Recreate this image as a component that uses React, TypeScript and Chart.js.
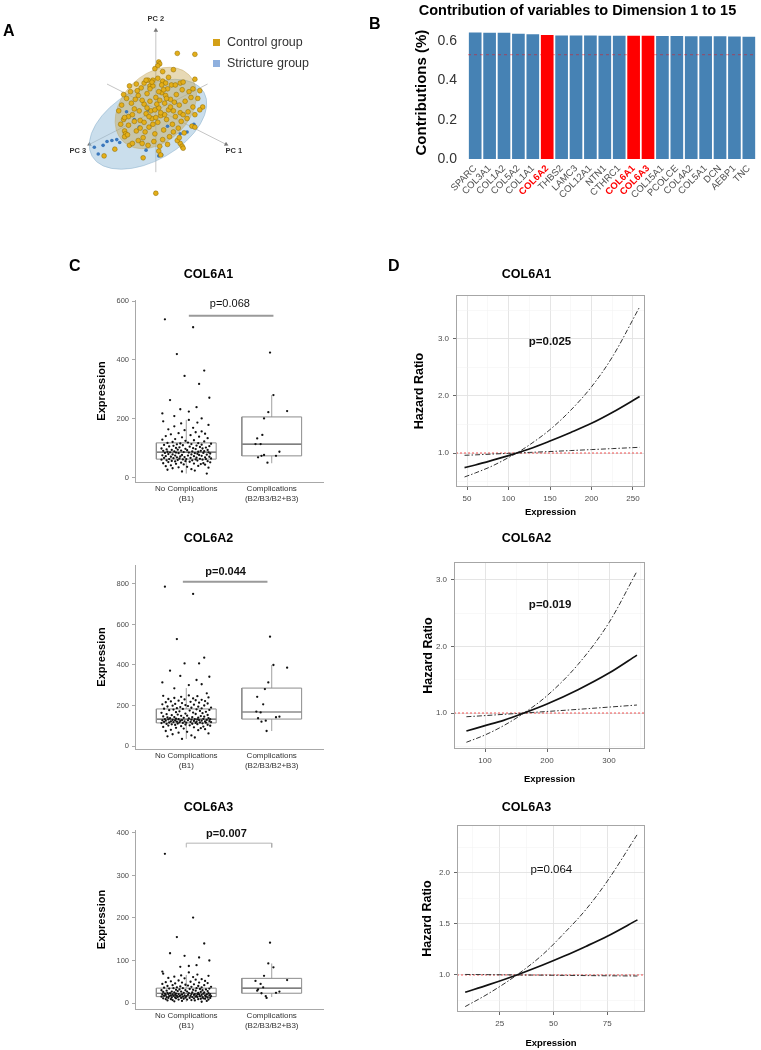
import React, { useEffect, useRef } from "react";
import { Chart, registerables } from "chart.js";

Chart.register(...registerables);

const FONT = '"Liberation Sans", Arial, Helvetica, sans-serif';
Chart.defaults.font.family = FONT;
Chart.defaults.color = "#000";
Chart.defaults.plugins.legend.display = false;
Chart.defaults.plugins.tooltip.enabled = false;

/* ================= Panel A : PCA (PC units) ================= */
const pcaControl: number[][] = [
  [2.2, 6.2], [4.0, 6.1], [0.3, 5.3], [0.4, 5.1], [0.2, 4.9], [-0.1, 4.6], [0.7, 4.3], [1.8, 4.5], [-1.2, 3.1], [-0.8, 3.4],
  [-0.3, 3.4], [-0.6, 2.8], [0.7, 3.3], [1.3, 3.7], [2.5, 3.1], [4.0, 3.5], [3.8, 2.5], [4.5, 2.3], [4.3, 1.5], [4.8, 0.6],
  [4.0, -0.2], [4.5, 0.3], [3.7, -1.4], [4.0, -1.5], [2.5, -3.2], [2.7, -3.5], [2.8, -3.7], [0.3, -4.0], [0.5, -4.4], [-1.3, -4.7],
  [-2.7, -3.4], [-4.2, -3.8], [-5.3, -4.5], [-3.3, -0.7], [-3.2, -1.9], [-3.1, -2.2], [-3.2, -2.5], [-2.8, -0.4], [0.0, -8.4],
  [-3.5, 0.8], [-3.0, 1.5], [-2.6, 2.2], [-2.2, 0.4], [-1.8, 1.8], [-1.5, 2.6], [-1.2, 0.9], [-0.9, 2.0], [-0.6, 1.2], [-0.3, 2.8],
  [0.0, 1.6], [0.3, 0.5], [0.6, 2.1], [0.9, 1.0], [1.2, 2.5], [1.5, 1.4], [1.8, 0.2], [2.1, 1.9], [2.4, 0.8], [2.7, 2.4],
  [3.0, 1.2], [3.3, 0.1], [3.6, 1.6], [-3.2, -0.5], [-2.8, -1.3], [-2.4, -0.2], [-2.0, -1.9], [-1.6, -0.8], [-1.3, -2.6], [-1.0, -0.1],
  [-0.7, -1.5], [-0.4, -0.6], [-0.1, -2.2], [0.2, -1.0], [0.5, -0.3], [0.8, -1.8], [1.1, -0.7], [1.4, -2.5], [1.7, -1.2], [2.0, -0.4],
  [2.3, -1.6], [2.6, -0.9], [2.9, -2.1], [3.2, -0.6], [-2.0, 3.0], [-1.0, 3.4], [0.2, 3.6], [1.0, 3.1], [-0.5, 0.2], [0.1, 0.9],
  [-1.4, 1.3], [-2.5, 1.0], [1.3, 0.3], [0.7, -2.8], [-0.2, -3.0], [-1.8, -2.9], [-2.9, -2.3], [2.2, -2.9], [-3.6, -1.2], [3.8, 0.6],
  [-0.8, -3.4], [0.4, -3.5], [1.6, 2.9], [2.8, 3.2], [-1.2, -1.0], [-0.9, 0.5], [0.4, 1.3], [0.9, -0.2], [-0.3, -1.2], [1.9, 1.1],
  [-2.2, -0.9], [-1.7, 0.2], [2.5, 0.0], [-0.6, 2.5], [1.0, 1.8], [-2.7, 2.8], [0.6, 2.9], [1.8, -2.0], [-1.1, -2.0], [0.0, -0.5],
  [3.4, 2.2], [-3.3, 1.9], [2.0, 2.9], [-0.4, 3.2], [-2.4, -3.2], [1.2, -3.3], [-3.8, 0.2], [0.3, 2.2], [-1.6, -1.6], [1.5, 0.6],
  [-0.1, 0.3], [0.5, 0.0], [-0.7, -0.4], [1.1, 1.5], [-1.9, 2.3], [2.8, -0.2], [-2.1, 1.4], [0.8, 2.4], [-1.4, -3.2], [2.4, -2.6],
];
const pcaStricture: number[][] = [
  [-5.0, -3.0], [-4.5, -2.9], [-5.9, -4.3], [-5.4, -3.4], [-4.0, -2.8], [-3.7, -3.1], [-1.7, -1.5], [-0.8, 0.3], [2.0, 1.1], [2.5, -2.2],
  [3.2, -2.0], [0.3, -4.5], [0.6, -4.4], [1.2, -1.4], [-2.2, -0.7], [-3.0, 0.1], [-6.3, -3.6], [3.9, -1.2], [-1.0, -3.9],
];
const pcAxis1 = [[-5.0, 3.0], [7.2, -3.3]];
const pcAxis2 = [[0, -6.2], [0, 8.6]];
const pcAxis3 = [[5.3, 3.0], [-6.8, -3.3]];
// confidence ellipses: centre x, centre y, semi-major, semi-minor (PC units)
const ellipseStricture = [-0.8, -1.2, 6.6, 3.8];
const ellipseControl = [0.0, 0.5, 4.8, 3.5];

/* ================= Panel B : contributions ================= */
const genes = ["SPARC", "COL3A1", "COL1A2", "COL5A2", "COL1A1", "COL6A2", "THBS2", "LAMC3", "COL12A1", "NTN1",
  "CTHRC1", "COL6A1", "COL6A3", "COL15A1", "PCOLCE", "COL4A2", "COL5A1", "DCN", "AEBP1", "TNC"];
const contributions = [0.643, 0.642, 0.642, 0.636, 0.634, 0.630, 0.628, 0.628, 0.628, 0.627,
  0.627, 0.627, 0.627, 0.625, 0.625, 0.624, 0.624, 0.624, 0.623, 0.621];
const highlighted = ["COL6A2", "COL6A1", "COL6A3"];
const expectedContribution = 0.53;
const contributionTicks = [0, 0.2, 0.4, 0.6];

/* ================= Panel C : expression box plots ================= */
const groupLabels = [["No Complications", "(B1)"], ["Complications", "(B2/B3/B2+B3)"]];
const jitterB1 = [
  -0.25, 0.08, -0.11, 0.21, -0.02, 0.15, -0.19, 0.27, -0.07, 0.12,
  0.03, -0.28, 0.18, -0.14, 0.24, -0.05, 0.10, -0.22, 0.06, -0.16,
  0.26, -0.09, 0.01, -0.24, 0.14, -0.18, 0.22, -0.03, 0.17, -0.12,
  0.09, -0.27, 0.20, -0.06, 0.28, -0.21, 0.04, -0.13, 0.25, -0.01,
  -0.17, 0.13, -0.23, 0.07, -0.10, 0.19, -0.29, 0.11, -0.04, 0.23,
  0.00, -0.20, 0.16, -0.08, 0.29, -0.15, 0.05, -0.26, 0.12, -0.11,
  0.22, -0.02, -0.18, 0.27, -0.07, 0.09, -0.24, 0.18, -0.13, 0.02,
  -0.28, 0.15, -0.05, 0.24, -0.16, 0.06, -0.21, 0.13, 0.28, -0.09,
  0.10, -0.25, 0.20, -0.12, 0.03, -0.19, 0.26, -0.03, 0.14, -0.22,
  0.07, -0.14, 0.21, -0.27, 0.17, -0.06, 0.01, -0.17, 0.25, -0.10,
  -0.23, 0.11, -0.01, 0.19, -0.29, 0.08, -0.12, 0.23, -0.08, 0.16,
  0.04, -0.20, 0.27, -0.15, 0.12, -0.04, -0.26, 0.18, -0.11, 0.06,
  0.29, -0.07, 0.14, -0.22, 0.02, -0.16, 0.21, -0.01, 0.09, -0.28,
  -0.13, 0.25, -0.05, 0.15, -0.24, 0.05, -0.18, 0.22, -0.09, 0.11,
  0.18, -0.02, -0.21, 0.08, -0.14, 0.26, -0.06, 0.13, -0.27, 0.03,
];

const col6a1B1 = [538, 511, 420, 364, 346, 319, 264, 272, 233, 240, 225, 219, 202, 210,
  15, 22, 25, 28, 30, 33, 35, 36, 38, 40, 41, 43, 45, 46, 47, 48, 49, 50, 50, 52,
  53, 54, 55, 56, 57, 57, 58, 59, 60, 60, 61, 62, 62, 63, 63, 64, 64, 64,
  65, 66, 66, 67, 68, 68, 69, 70, 70, 71, 72, 72, 73, 74, 74, 75, 76, 76, 77, 78, 78, 79, 80, 80, 81, 82, 83, 84, 84, 85, 85, 86, 86, 87, 87, 88,
  89, 89, 90, 90, 91, 92, 92, 93, 94, 95, 95, 96, 97, 98, 99, 100, 100, 101, 102, 103, 104, 105, 106, 107, 108, 109, 110, 111, 112, 113, 114, 115, 116, 117, 118, 119,
  120, 122, 124, 126, 128, 130, 132, 135, 138, 140, 142, 145, 148, 150, 152, 155, 158, 162, 165, 170, 175, 180, 185, 188, 192, 197];
const col6a1Comp = [425, 281, 227, 223, 202, 146, 134, 115, 115, 89, 78, 75, 70, 75, 52];
const col6a1CompX = [1.98, 2.02, 2.18, 1.96, 1.91, 1.89, 1.83, 1.81, 1.87, 2.09, 1.91, 1.88, 1.84, 2.05, 1.95];
const col6a1Stats = [[15, 64, 88, 119, 197], [50, 75, 115, 207, 281]]; // min, Q1, median, Q3, max
const col6a1Ticks = [0, 200, 400, 600];
const col6a1Sig = [[1.03, 550], [2.02, 550]];

const col6a2B1 = [787, 751, 528, 436, 408, 408, 372, 342, 346, 326, 301, 314, 305, 285, 260,
  35, 42, 48, 52, 58, 62, 66, 70, 74, 78, 80, 83, 86, 88, 90, 92, 94, 96, 98, 100, 101, 102, 104, 105, 106, 107, 108, 109, 110, 111, 112, 113, 114,
  114, 115, 115, 116, 116, 117, 118, 118, 119, 119, 120, 120, 121, 122, 122, 123, 124, 124, 125, 125, 126, 127, 127, 128, 128, 129, 129, 130, 131, 131, 132, 132, 133, 133,
  134, 135, 136, 137, 138, 139, 140, 141, 142, 143, 145, 146, 148, 149, 150, 152, 153, 155, 157, 158, 160, 162, 164, 165, 167, 169, 171, 173, 175, 177, 178, 180, 181, 183,
  184, 186, 187, 189, 190, 192, 194, 195, 197, 199, 200, 202, 204, 206, 208, 210, 212, 214, 216, 218, 220, 222, 224, 226, 228, 230, 232, 235, 237, 240, 243, 246, 248, 250];
const col6a2Comp = [540, 400, 387, 314, 281, 243, 206, 145, 142, 170, 166, 120, 125, 137, 74];
const col6a2CompX = [1.98, 2.02, 2.18, 1.96, 1.92, 1.83, 1.9, 2.09, 2.05, 1.82, 1.87, 1.88, 1.93, 1.84, 1.94];
const col6a2Stats = [[35, 114, 133, 183, 286], [74, 133, 168, 286, 400]];
const col6a2Ticks = [0, 200, 400, 600, 800];
const col6a2Sig = [[0.96, 811], [1.95, 811]];

const col6a3B1 = [351, 201, 155, 140, 111, 107, 117, 100, 85, 89, 87, 74,
  3, 4, 5, 5, 6, 6, 7, 7, 8, 8, 8, 9, 9, 9, 10, 10, 10, 11, 11, 11, 11, 12, 12, 12, 12, 13, 13, 13, 13, 14, 14, 14, 14, 14,
  15, 15, 15, 15, 16, 16, 16, 16, 16, 17, 17, 17, 17, 17, 18, 18, 18, 18, 18, 19, 19, 19, 19, 19, 20, 20, 20, 20, 20, 21, 21, 21, 21, 21, 21,
  22, 22, 22, 23, 23, 23, 24, 24, 24, 25, 25, 25, 26, 26, 27, 27, 27, 28, 28, 29, 29, 30, 30, 30, 31, 31, 32, 32, 33, 33, 34, 34, 35, 35, 35,
  36, 37, 37, 38, 38, 39, 40, 40, 41, 42, 42, 43, 44, 45, 46, 47, 48, 48, 49, 50, 51, 52, 53, 55, 56, 58, 59, 61, 62, 64, 65, 67, 69, 72];
const col6a3Comp = [142, 93, 84, 64, 54, 52, 45, 37, 29, 27, 24, 23, 16, 12, 32];
const col6a3CompX = [1.98, 1.96, 2.02, 1.91, 2.18, 1.81, 1.87, 1.9, 1.83, 2.09, 2.05, 1.88, 1.93, 1.94, 1.84];
const col6a3Stats = [[3, 15, 23, 35, 66], [14, 23, 35, 58, 93]];
const col6a3Ticks = [0, 100, 200, 300, 400];
const col6a3Sig = [[1.0, 366], [1.0, 376], [2.0, 376], [2.0, 366]];

/* ================= Panel D : hazard ratio curves ================= */
const hr1X = [47, 60, 80, 100, 110, 125, 150, 175, 200, 225, 258];
const hr1 = [0.745, 0.79, 0.87, 0.955, 1.0, 1.07, 1.21, 1.36, 1.52, 1.71, 1.99];
const hr1Upper = [0.58, 0.65, 0.77, 0.92, 1.0, 1.14, 1.41, 1.75, 2.16, 2.68, 3.56];
const hr1Lower = [0.96, 0.967, 0.981, 0.994, 1.0, 1.01, 1.026, 1.043, 1.06, 1.077, 1.10];
const hr1XMajor = [50, 100, 150, 200, 250];
const hr1XMinor = [75, 125, 175, 225];
const hr1YMajor = [1, 2, 3];
const hr1YMinor = [0.5, 1.5, 2.5, 3.5];

const hr2X = [70, 100, 130, 163, 200, 250, 300, 345];
const hr2 = [0.73, 0.81, 0.89, 1.0, 1.135, 1.35, 1.60, 1.87];
const hr2Upper = [0.56, 0.67, 0.81, 1.0, 1.26, 1.73, 2.36, 3.13];
const hr2Lower = [0.944, 0.961, 0.98, 1.0, 1.023, 1.055, 1.089, 1.12];
const hr2XMajor = [100, 200, 300];
const hr2XMinor = [50, 150, 250, 350];
const hr2YMajor = [1, 2, 3];
const hr2YMinor = [0.5, 1.5, 2.5];

const hr3X = [9, 20, 33, 45, 55, 65, 75, 89];
const hr3 = [0.83, 0.905, 1.0, 1.097, 1.185, 1.28, 1.38, 1.54];
const hr3Upper = [0.69, 0.82, 1.0, 1.20, 1.41, 1.64, 1.92, 2.38];
const hr3Lower = [1.005, 1.003, 1.0, 0.998, 0.996, 0.994, 0.992, 0.99];
const hr3XMajor = [25, 50, 75];
const hr3XMinor = [12.5, 37.5, 62.5, 87.5];
const hr3YMajor = [1, 1.5, 2];
const hr3YMinor = [0.75, 1.25, 1.75, 2.25];

const referenceHR = 1;

/* ================= helpers ================= */
function textPlugin(items: any[]) {
  return {
    id: "txt",
    afterDatasetsDraw(chart: any) {
      const ctx = chart.ctx;
      items.forEach((it) => {
        const x = chart.scales.x.getPixelForValue(it.x);
        const y = chart.scales.y.getPixelForValue(it.y);
        ctx.save();
        ctx.font = `${it.weight || "normal"} ${it.size}px ${FONT}`;
        ctx.fillStyle = it.color || "#000";
        ctx.textAlign = "center";
        ctx.textBaseline = "middle";
        ctx.fillText(it.text, x, y);
        ctx.restore();
      });
    },
  };
}

const framePlugin = {
  id: "frame",
  afterDatasetsDraw(chart: any) {
    const a = chart.chartArea;
    const ctx = chart.ctx;
    ctx.save();
    ctx.strokeStyle = "#a6a6a6";
    ctx.lineWidth = 1;
    ctx.strokeRect(a.left + 0.5, a.top + 0.5, a.right - a.left - 1, a.bottom - a.top - 1);
    ctx.restore();
  },
};

const thresholdPlugin = {
  id: "thr",
  afterDatasetsDraw(chart: any) {
    const a = chart.chartArea;
    const y = chart.scales.y.getPixelForValue(expectedContribution);
    const ctx = chart.ctx;
    ctx.save();
    ctx.strokeStyle = "rgba(255,0,0,0.45)";
    ctx.lineWidth = 1;
    ctx.setLineDash([3, 3]);
    ctx.beginPath();
    ctx.moveTo(a.left, y);
    ctx.lineTo(a.right, y);
    ctx.stroke();
    ctx.restore();
  },
};

const ellipsePlugin = {
  id: "ell",
  beforeDatasetDraw(chart: any, args: any) {
    if (args.index !== 1) return;
    const xs = chart.scales.x;
    const ys = chart.scales.y;
    const ctx = chart.ctx;
    const draw = (e: number[], rot: number, fill: string, stroke: string) => {
      const cx = xs.getPixelForValue(e[0]);
      const cy = ys.getPixelForValue(e[1]);
      const rx = Math.abs(xs.getPixelForValue(e[0] + e[2]) - cx);
      const ry = Math.abs(ys.getPixelForValue(e[1] + e[3]) - cy);
      ctx.save();
      ctx.beginPath();
      ctx.ellipse(cx, cy, rx, ry, rot, 0, Math.PI * 2);
      ctx.fillStyle = fill;
      ctx.fill();
      ctx.strokeStyle = stroke;
      ctx.lineWidth = 0.8;
      ctx.stroke();
      ctx.restore();
    };
    draw(ellipseStricture, -0.52, "rgba(150,190,218,0.5)", "rgba(130,170,200,0.6)");
    draw(ellipseControl, -0.785, "rgba(196,160,70,0.4)", "rgba(190,160,90,0.5)");
  },
};

function ChartCanvas({ left, top, width, height, config }: any) {
  const ref = useRef<HTMLCanvasElement>(null);
  useEffect(() => {
    const chart = new Chart(ref.current as HTMLCanvasElement, config());
    return () => chart.destroy();
  }, []);
  return (
    <canvas
      ref={ref}
      width={width}
      height={height}
      style={{ position: "absolute", left, top, width, height }}
    />
  );
}

/* ================= configs ================= */
function pcaConfig(): any {
  const toPts = (arr: number[][]) => arr.map(([x, y]) => ({ x, y }));
  const axis = (arr: number[][], rot: number) => ({
    type: "line",
    data: toPts(arr),
    borderColor: "#c4c4c4",
    borderWidth: 1,
    pointRadius: [0, 2.6],
    pointStyle: "triangle",
    pointRotation: [0, rot],
    pointBackgroundColor: "#777",
    pointBorderWidth: 0,
  });
  return {
    type: "scatter",
    data: {
      datasets: [
        { data: toPts(pcaControl), pointRadius: 2.4, pointBackgroundColor: "#e3ae1a", pointBorderColor: "#8d6b00", pointBorderWidth: 0.5 },
        { data: toPts(pcaStricture), pointRadius: 1.8, pointBackgroundColor: "#3b78bd", pointBorderWidth: 0 },
        axis(pcAxis1, 117),
        axis(pcAxis2, 0),
        axis(pcAxis3, 242),
      ],
    },
    options: {
      responsive: false,
      animation: false,
      events: [],
      layout: { padding: 0 },
      scales: {
        x: { type: "linear", display: false, min: -15.5, max: 22.5 },
        y: { type: "linear", display: false, min: -10.2, max: 11.3 },
      },
    },
    plugins: [
      ellipsePlugin,
      textPlugin([
        { text: "PC 2", x: 0, y: 9.8, size: 7.5, weight: "bold", color: "#333" },
        { text: "PC 3", x: -8.0, y: -4.0, size: 7.5, weight: "bold", color: "#333" },
        { text: "PC 1", x: 8.0, y: -4.0, size: 7.5, weight: "bold", color: "#333" },
      ]),
    ],
  };
}

function barConfig(): any {
  const isHi = (i: number) => highlighted.includes(genes[i]);
  return {
    type: "bar",
    data: {
      labels: genes,
      datasets: [
        {
          data: contributions,
          backgroundColor: genes.map((g) => (highlighted.includes(g) ? "#FF0000" : "#4682B4")),
          barPercentage: 0.88,
          categoryPercentage: 1,
        },
      ],
    },
    options: {
      responsive: false,
      animation: false,
      events: [],
      layout: { padding: { left: 18, right: 4, top: 0, bottom: 0 } },
      plugins: {
        title: {
          display: true,
          text: "Contribution of variables to Dimension 1 to 15",
          font: { size: 14.5, weight: "bold", lineHeight: 1 },
          padding: { top: 3.75, bottom: 7.95 },
          color: "#000",
        },
      },
      scales: {
        x: {
          afterFit: (s: any) => { s.height = 46; },
          grid: { display: false, drawTicks: false },
          border: { display: false },
          ticks: {
            maxRotation: 45,
            minRotation: 45,
            autoSkip: false,
            padding: 4,
            color: (c: any) => (isHi(c.index) ? "#FF0000" : "#4d4d4d"),
            font: (c: any) => ({ size: 9.5, weight: isHi(c.index) ? "bold" : "normal" }),
          },
        },
        y: {
          min: 0,
          max: 0.675,
          afterBuildTicks: (s: any) => { s.ticks = contributionTicks.map((value) => ({ value })); },
          afterFit: (s: any) => { s.width = 70; },
          grid: { display: false, drawTicks: false },
          border: { display: false },
          ticks: { callback: (v: any) => Number(v).toFixed(1), font: { size: 14 }, color: "#333", padding: 11 },
          title: {
            display: true,
            text: "Contributions (%)",
            font: { size: 15, weight: "bold", lineHeight: 1.2 },
            padding: { top: 15, bottom: 0 },
            color: "#000",
          },
        },
      },
    },
    plugins: [thresholdPlugin],
  };
}

function boxDatasets(center: number, s: number[], half: number) {
  const [mn, q1, md, q3, mx] = s;
  const seg = (pts: number[][], color: string, w: number) => ({
    type: "line",
    data: pts.map(([x, y]) => ({ x, y })),
    borderColor: color,
    borderWidth: w,
    pointRadius: 0,
    fill: false,
    tension: 0,
  });
  return [
    seg([[center - half, q1], [center + half, q1], [center + half, q3], [center - half, q3], [center - half, q1]], "#8c8c8c", 1),
    seg([[center - half, md], [center + half, md]], "#555", 1.2),
    seg([[center, q3], [center, mx]], "#a0a0a0", 1),
    seg([[center, mn], [center, q1]], "#a0a0a0", 1),
  ];
}

function boxConfig(p: any) {
  return (): any => {
    const half = 0.35;
    const datasets: any[] = [
      { type: "scatter", data: p.b1.map((v: number, i: number) => ({ x: 1 + jitterB1[i], y: v })), pointRadius: 1.15, pointBackgroundColor: "#111", pointBorderWidth: 0 },
      { type: "scatter", data: p.comp.map((v: number, i: number) => ({ x: p.compX[i], y: v })), pointRadius: 1.15, pointBackgroundColor: "#111", pointBorderWidth: 0 },
      ...boxDatasets(1, p.stats[0], half),
      ...boxDatasets(2, p.stats[1], half),
      { type: "line", data: p.sig.map(([x, y]: number[]) => ({ x, y })), borderColor: p.sigColor, borderWidth: p.sigWidth, pointRadius: 0, fill: false, tension: 0 },
    ];
    return {
      type: "scatter",
      data: { datasets },
      options: {
        responsive: false,
        animation: false,
        events: [],
        layout: { padding: { left: 34, right: 17, top: 0, bottom: 2 } },
        plugins: {
          title: {
            display: true,
            text: p.title,
            font: { size: 12.5, weight: "bold", lineHeight: 1 },
            padding: p.titlePad,
            color: "#000",
          },
        },
        scales: {
          x: {
            type: "linear",
            min: 0.4,
            max: 2.6,
            afterBuildTicks: (s: any) => { s.ticks = [1, 2].map((value) => ({ value })); },
            afterFit: (s: any) => { s.height = p.xH; },
            ticks: {
              callback: (v: any) => (v === 1 ? groupLabels[0] : v === 2 ? groupLabels[1] : ""),
              font: { size: 8, lineHeight: 1.25 },
              color: "#333",
              padding: 2,
              maxRotation: 0,
              autoSkip: false,
            },
            grid: { display: false, drawTicks: false },
            border: { display: true, color: "#a8a8a8", width: 1 },
          },
          y: {
            type: "linear",
            min: p.yMin,
            max: p.yMax,
            afterBuildTicks: (s: any) => { s.ticks = p.ticks.map((value: number) => ({ value })); },
            afterFit: (s: any) => { s.width = 41; },
            ticks: { font: { size: 7.5 }, color: "#4d4d4d", padding: 3, autoSkip: false },
            grid: { display: true, drawOnChartArea: false, drawTicks: true, tickLength: 3, color: "#a8a8a8" },
            border: { display: true, color: "#a8a8a8", width: 1 },
            title: {
              display: true,
              text: "Expression",
              font: { size: 11, weight: "bold", lineHeight: 1.2 },
              padding: { top: 1.4, bottom: 0 },
              color: "#000",
            },
          },
        },
      },
      plugins: [textPlugin([{ text: p.pText, x: p.pPos[0], y: p.pPos[1], size: 11, weight: p.pBold ? "bold" : "normal", color: "#111" }])],
    };
  };
}

function hrConfig(p: any) {
  return (): any => {
    const pts = (xs: number[], ys: number[]) => xs.map((x, i) => ({ x, y: ys[i] }));
    const gridOpts = (major: number[]) => {
      const isMaj = (c: any) => c.tick && major.includes(c.tick.value);
      return {
        display: true,
        drawOnChartArea: true,
        drawTicks: true,
        tickLength: 3,
        color: (c: any) => (isMaj(c) ? "#e2e2e2" : "#f0f0f0"),
        lineWidth: (c: any) => (isMaj(c) ? 0.9 : 0.5),
        tickColor: (c: any) => (isMaj(c) ? "#555" : "rgba(0,0,0,0)"),
      };
    };
    return {
      type: "scatter",
      data: {
        datasets: [
          { type: "line", data: pts(p.x, p.hr), borderColor: "#111", borderWidth: 1.7, pointRadius: 0, fill: false, cubicInterpolationMode: "monotone" },
          { type: "line", data: pts(p.x, p.up), borderColor: "#333", borderWidth: 1, borderDash: [5, 2, 1.5, 2], pointRadius: 0, fill: false, cubicInterpolationMode: "monotone" },
          { type: "line", data: pts(p.x, p.lo), borderColor: "#333", borderWidth: 1, borderDash: [5, 2, 1.5, 2], pointRadius: 0, fill: false, cubicInterpolationMode: "monotone" },
          { type: "line", data: [{ x: p.xMin, y: referenceHR }, { x: p.xMax, y: referenceHR }], borderColor: "rgba(240,70,70,0.85)", borderWidth: 1.1, borderDash: [2, 2], pointRadius: 0, fill: false },
        ],
      },
      options: {
        responsive: false,
        animation: false,
        events: [],
        layout: { padding: { left: 23, right: 10, top: 0, bottom: 1 } },
        plugins: {
          title: {
            display: true,
            text: p.title,
            font: { size: 12.5, weight: "bold", lineHeight: 1 },
            padding: p.titlePad,
            color: "#000",
          },
        },
        scales: {
          x: {
            type: "linear",
            min: p.xMin,
            max: p.xMax,
            afterBuildTicks: (s: any) => {
              s.ticks = [...p.xMajor, ...p.xMinor].sort((a: number, b: number) => a - b).map((value: number) => ({ value }));
            },
            afterFit: (s: any) => { s.height = p.xH; },
            ticks: {
              callback: (v: any) => (p.xMajor.includes(v) ? String(v) : ""),
              font: { size: 8 },
              color: "#4d4d4d",
              padding: 4,
              maxRotation: 0,
              autoSkip: false,
            },
            grid: gridOpts(p.xMajor),
            border: { display: false },
            title: {
              display: true,
              text: "Expression",
              font: { size: 9.5, weight: "bold", lineHeight: 1.2 },
              padding: { top: 0, bottom: p.xTitlePad },
              color: "#000",
            },
          },
          y: {
            type: "linear",
            min: p.yMin,
            max: p.yMax,
            afterBuildTicks: (s: any) => {
              s.ticks = [...p.yMajor, ...p.yMinor].sort((a: number, b: number) => a - b).map((value: number) => ({ value }));
            },
            afterFit: (s: any) => { s.width = p.yW; },
            ticks: {
              callback: (v: any) => (p.yMajor.includes(v) ? Number(v).toFixed(1) : ""),
              font: { size: 8 },
              color: "#4d4d4d",
              padding: 4,
              autoSkip: false,
            },
            grid: gridOpts(p.yMajor),
            border: { display: false },
            title: {
              display: true,
              text: "Hazard Ratio",
              font: { size: 12.5, weight: "bold", lineHeight: 1.2 },
              padding: { top: p.yTitlePad, bottom: 0 },
              color: "#000",
            },
          },
        },
      },
      plugins: [framePlugin, textPlugin([{ text: p.pText, x: p.pPos[0], y: p.pPos[1], size: 11.5, weight: p.pBold ? "bold" : "normal", color: "#111" }])],
    };
  };
}

const c1 = boxConfig({
  title: "COL6A1", b1: col6a1B1, comp: col6a1Comp, compX: col6a1CompX, stats: col6a1Stats, ticks: col6a1Ticks,
  yMin: -13.6, yMax: 603.4, sig: col6a1Sig, sigColor: "#9a9a9a", sigWidth: 2,
  pText: "p=0.068", pBold: false, pPos: [1.51, 590], titlePad: { top: 6.75, bottom: 18.75 }, xH: 28,
});
const c2 = boxConfig({
  title: "COL6A2", b1: col6a2B1, comp: col6a2Comp, compX: col6a2CompX, stats: col6a2Stats, ticks: col6a2Ticks,
  yMin: -14.8, yMax: 893.8, sig: col6a2Sig, sigColor: "#9a9a9a", sigWidth: 2,
  pText: "p=0.044", pBold: true, pPos: [1.46, 861], titlePad: { top: 10.75, bottom: 19.75 }, xH: 29,
});
const c3 = boxConfig({
  title: "COL6A3", b1: col6a3B1, comp: col6a3Comp, compX: col6a3CompX, stats: col6a3Stats, ticks: col6a3Ticks,
  yMin: -14.1, yMax: 407, sig: col6a3Sig, sigColor: "#ababab", sigWidth: 0.9,
  pText: "p=0.007", pBold: true, pPos: [1.47, 397], titlePad: { top: 13.75, bottom: 15.75 }, xH: 39,
});

const d1 = hrConfig({
  title: "COL6A1", x: hr1X, hr: hr1, up: hr1Upper, lo: hr1Lower,
  xMajor: hr1XMajor, xMinor: hr1XMinor, yMajor: hr1YMajor, yMinor: hr1YMinor,
  xMin: 36.7, xMax: 264.5, yMin: 0.404, yMax: 3.77,
  titlePad: { top: 6.75, bottom: 13.75 }, xH: 32, yW: 48, yTitlePad: 4.5, xTitlePad: 1.3,
  pText: "p=0.025", pBold: true, pPos: [150, 2.95],
});
const d2 = hrConfig({
  title: "COL6A2", x: hr2X, hr: hr2, up: hr2Upper, lo: hr2Lower,
  xMajor: hr2XMajor, xMinor: hr2XMinor, yMajor: hr2YMajor, yMinor: hr2YMinor,
  xMin: 50, xMax: 358, yMin: 0.459, yMax: 3.27,
  titlePad: { top: 10.75, bottom: 16.75 }, xH: 36, yW: 46, yTitlePad: 13.5, xTitlePad: 0.3,
  pText: "p=0.019", pBold: true, pPos: [205, 2.62],
});
const d3 = hrConfig({
  title: "COL6A3", x: hr3X, hr: hr3, up: hr3Upper, lo: hr3Lower,
  xMajor: hr3XMajor, xMinor: hr3XMinor, yMajor: hr3YMajor, yMinor: hr3YMinor,
  xMin: 5.2, xMax: 92.5, yMin: 0.637, yMax: 2.47,
  titlePad: { top: 13.75, bottom: 10.75 }, xH: 37, yW: 49, yTitlePad: 12.5, xTitlePad: 0.3,
  pText: "p=0.064", pBold: false, pPos: [49, 2.03],
});

function Letter({ text, left, top }: any) {
  return (
    <div style={{ position: "absolute", left, top, fontSize: 16, lineHeight: "16px", fontWeight: "bold", color: "#000", fontFamily: FONT }}>
      {text}
    </div>
  );
}

function LegendItem({ color, text, top }: any) {
  return (
    <div style={{ position: "absolute", left: 213, top, height: 13, display: "flex", alignItems: "center", fontFamily: FONT }}>
      <div style={{ width: 7, height: 7, background: color, marginRight: 7 }} />
      <span style={{ fontSize: 12.5, lineHeight: "13px", color: "#333" }}>{text}</span>
    </div>
  );
}

export default function App() {
  return (
    <div style={{ position: "absolute", left: 0, top: 0, width: 761, height: 1050, background: "#fff", overflow: "hidden" }}>
      <ChartCanvas left={0} top={0} width={380} height={215} config={pcaConfig} />
      <ChartCanvas left={380} top={0} width={381} height={205} config={barConfig} />
      <ChartCanvas left={60} top={262} width={280} height={250} config={c1} />
      <ChartCanvas left={60} top={522} width={280} height={258} config={c2} />
      <ChartCanvas left={60} top={788} width={280} height={262} config={c3} />
      <ChartCanvas left={385} top={262} width={270} height={258} config={d1} />
      <ChartCanvas left={385} top={522} width={270} height={264} config={d2} />
      <ChartCanvas left={385} top={788} width={270} height={262} config={d3} />
      <LegendItem color="#d4a017" text="Control group" top={36} />
      <LegendItem color="#8fb0de" text="Stricture group" top={56.5} />
      <Letter text="A" left={3} top={22.5} />
      <Letter text="B" left={369} top={15.5} />
      <Letter text="C" left={69} top={258} />
      <Letter text="D" left={388} top={258} />
    </div>
  );
}
